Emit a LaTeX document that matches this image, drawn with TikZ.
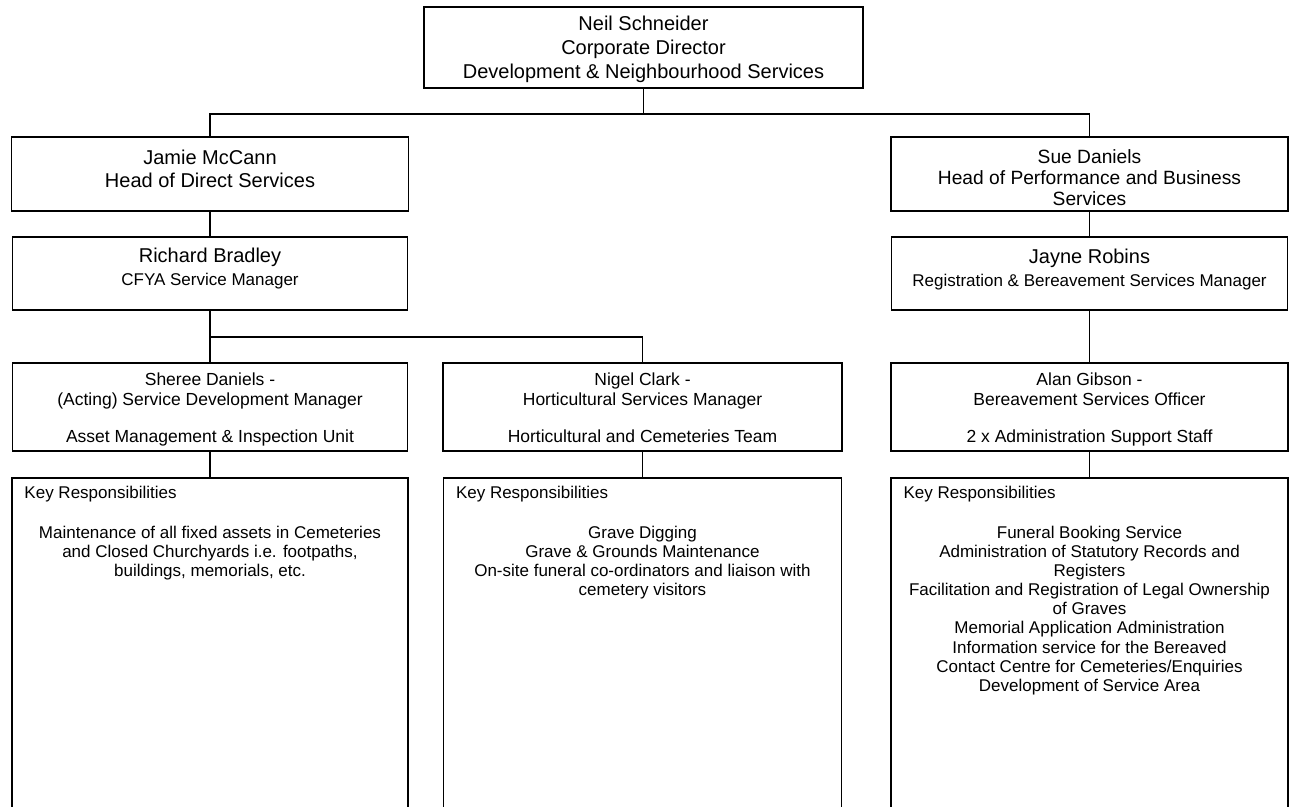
\documentclass[tikz,border=0pt]{standalone}
\usepackage{fontspec}
\setmainfont{Liberation Sans}
\usetikzlibrary{positioning}

\begin{document}
\begin{tikzpicture}[x=0.5pt,y=-0.5pt,
  post/.style={draw,line width=0.9pt,inner sep=0pt},
  big/.style={align=center,inner sep=0pt,font=\fontsize{10}{11.5}\selectfont,execute at begin node=\strut},
  small/.style={align=center,inner sep=0pt,font=\fontsize{8.75}{10}\selectfont,execute at begin node=\strut},
  duty/.style={align=center,inner sep=0pt,font=\fontsize{8.5}{9.55}\selectfont,execute at begin node=\strut},
  head/.style={anchor=base west,inner sep=0pt,font=\fontsize{8.5}{9.55}\selectfont,xshift=6.5pt,yshift=-10.8pt}]
\useasboundingbox (0,0) rectangle (1291,807);
\clip (0,0) rectangle (1291,807);
% boxes
\node[post,minimum width=219.5pt,minimum height=40.5pt] (boss) at (643.5,47.5) {};
\node[post,minimum width=198.5pt,minimum height=37pt] (jamie) at (210,174) {};
\node[post,minimum width=198.5pt,minimum height=37pt] (sue) at (1089.5,174) {};
\node[post,minimum width=197.5pt,minimum height=36.5pt] (richard) at (210,273.5) {};
\node[post,minimum width=198pt,minimum height=36.5pt] (jayne) at (1089.5,273.5) {};
\node[post,minimum width=197.5pt,minimum height=44pt] (sheree) at (210,407) {};
\node[post,minimum width=199.5pt,minimum height=44pt] (nigel) at (642.5,407) {};
\node[post,minimum width=198.5pt,minimum height=44pt] (alan) at (1089.5,407) {};
\node[post,minimum width=198pt,minimum height=176pt] (krA) at (210,654) {};
\node[post,minimum width=199pt,minimum height=176pt] (krB) at (642.5,654) {};
\node[post,minimum width=198.5pt,minimum height=176pt] (krC) at (1089.5,654) {};
% texts
\node[big,font=\fontsize{10}{12}\selectfont,below=4.6pt of boss.north] (bossT) {Neil Schneider\\Corporate Director\\Development \& Neighbourhood Services};
\node[big,below=6.8pt of jamie.north] (jamieT) {Jamie McCann\\Head of Direct Services};
\node[big,font=\fontsize{9.6}{10.5}\selectfont,below=6.5pt of sue.north] (sueT) {Sue Daniels\\Head of Performance and Business\\Services};
\node[big,below=5.8pt of richard.north] (richardT) {Richard Bradley\\\fontsize{8.5}{10.5}\selectfont CFYA Service Manager};
\node[big,below=6.5pt of jayne.north] (jayneT) {Jayne Robins\\\fontsize{8.5}{10}\selectfont Registration \& Bereavement Services Manager};
\node[small,below=5.2pt of sheree.north] (shereeT) {Sheree Daniels -\\(Acting) Service Development Manager\\[8.5pt]Asset Management \& Inspection Unit};
\node[small,below=5.2pt of nigel.north] (nigelT) {Nigel Clark -\\Horticultural Services Manager\\[8.5pt]Horticultural and Cemeteries Team};
\node[small,below=5.2pt of alan.north] (alanT) {Alan Gibson -\\Bereavement Services Officer\\[8.5pt]2 x Administration Support Staff};
\node[head] (krAH) at (krA.north west) {Key Responsibilities};
\node[head] (krBH) at (krB.north west) {Key Responsibilities};
\node[head] (krCH) at (krC.north west) {Key Responsibilities};
\node[duty,below=24.3pt of krA.north] (krAT) {Maintenance of all fixed assets in Cemeteries\\and Closed Churchyards i.e. footpaths,\\buildings, memorials, etc.};
\node[duty,below=24.3pt of krB.north] (krBT) {Grave Digging\\Grave \& Grounds Maintenance\\On-site funeral co-ordinators and liaison with\\cemetery visitors};
\node[duty,below=24.3pt of krC.north] (krCT) {Funeral Booking Service\\Administration of Statutory Records and\\Registers\\Facilitation and Registration of Legal Ownership\\of Graves\\Memorial Application Administration\\Information service for the Bereaved\\Contact Centre for Cemeteries/Enquiries\\Development of Service Area};
% links
\coordinate (bus) at (643.5,114);
\coordinate (fork) at (642.5,337);
\draw[line width=0.9pt] (jamie) |- (bus) -| (sue);
\draw[line width=0.9pt] (richard) |- (fork) -- (nigel);
\path[draw,line width=0.9pt]
(boss) edge (bus)
(jamie) edge (richard)
(sue) edge (jayne)
(richard) edge (sheree)
(jayne) edge (alan)
(sheree) edge (krA)
(nigel) edge (krB)
(alan) edge (krC);
\end{tikzpicture}
\end{document}
